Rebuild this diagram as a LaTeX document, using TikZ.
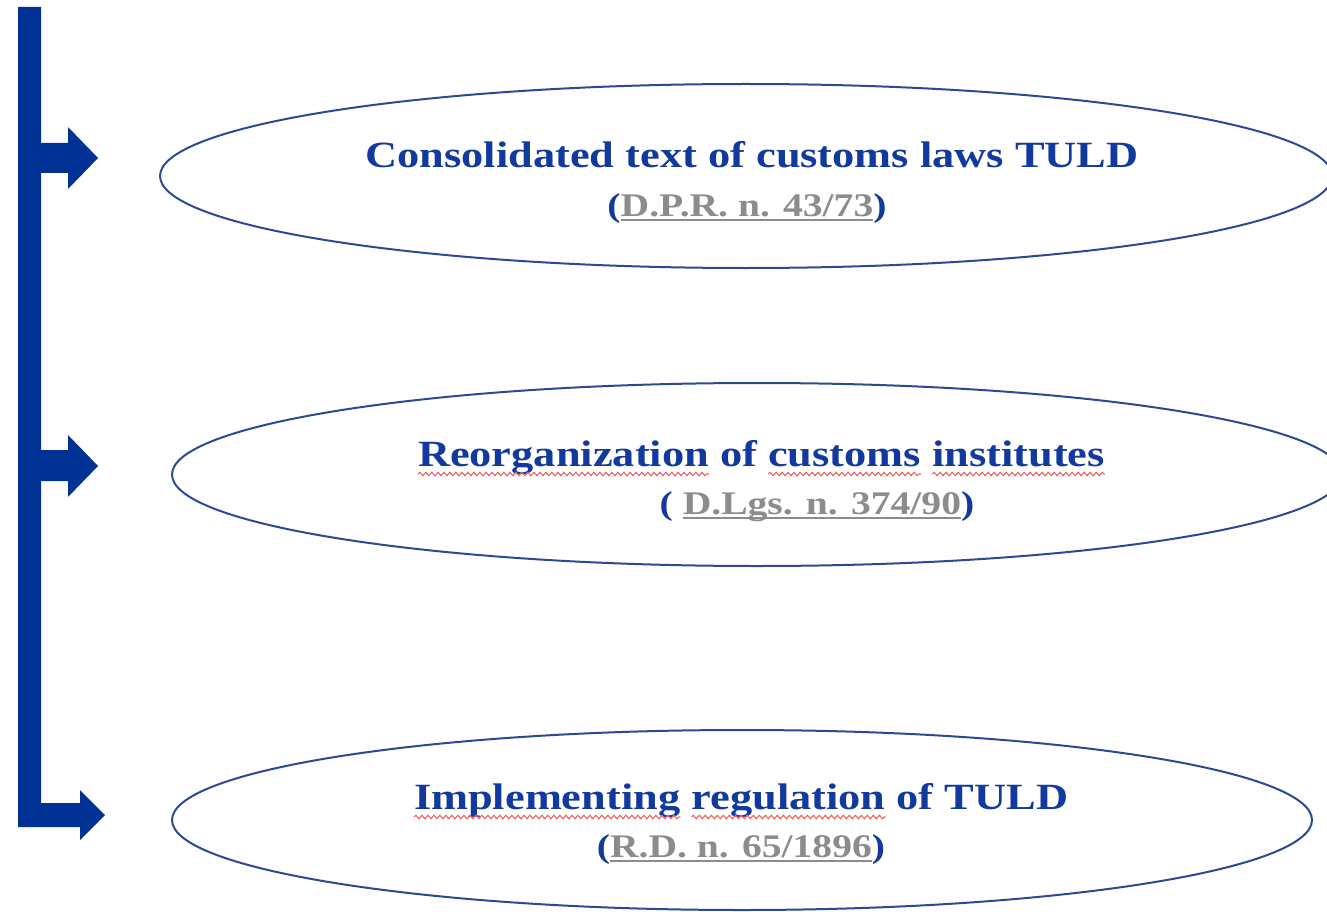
\documentclass[tikz,border=0pt]{standalone}
\usepackage{fontspec}
\setmainfont[FakeStretch=1.2]{Liberation Serif}
\usetikzlibrary{shapes.geometric,decorations.pathmorphing}

\definecolor{lawblue}{RGB}{18,58,158}
\definecolor{barblue}{RGB}{0,50,150}
\definecolor{rimblue}{RGB}{44,74,148}
\definecolor{refgray}{RGB}{140,140,140}
\definecolor{spellred}{RGB}{240,100,100}

% gray underlined reference
\newsavebox{\refbox}
\newcommand{\refcite}[1]{%
  \sbox{\refbox}{#1}%
  \rlap{\usebox{\refbox}}\rule[-4.5pt]{\wd\refbox}{1.3pt}}

\begin{document}
\begin{tikzpicture}[x=1pt,y=-1pt,
  oval/.style={ellipse, draw=rimblue, line width=2pt, inner sep=0pt},
  title/.style={font=\bfseries\fontsize{37}{40}\selectfont, text=lawblue,
    inner sep=0pt, outer sep=0pt, anchor=base west},
  reftext/.style={font=\bfseries\fontsize{33}{36}\selectfont, text=lawblue,
    inner sep=0pt, outer sep=0pt, anchor=base},
  blockarrow/.style={fill=barblue, draw=none},
  wavy/.style={draw=spellred, line width=1.1pt, decorate,
    decoration={snake, segment length=6pt, amplitude=1.7pt}}]

\useasboundingbox (0,0) rectangle (1327,912);
\clip (0,0) rectangle (1327,912);

% ovals
\node[oval, minimum width=1172pt, minimum height=184pt] (e1) at (746,176) {};
\node[oval, minimum width=1170pt, minimum height=183pt] (e2) at (757,474.5) {};
\node[oval, minimum width=1140pt, minimum height=180pt] (e3) at (742,820) {};

% first oval text
\node[title, anchor=base] (t1) at (752,168) {Consolidated text of customs laws TULD};
\node[reftext] (r1) at (747,216) {(\textcolor{refgray}{\refcite{D.P.R. n. 43/73}})};

% second oval text
\node[title] (t2a) at (418,466) {Reorganization};
\node[title] (t2b) at ([xshift=11.1pt]t2a.base east) {of};
\node[title] (t2c) at ([xshift=11.1pt]t2b.base east) {customs};
\node[title] (t2d) at ([xshift=11.1pt]t2c.base east) {institutes};
\node[reftext] (r2) at (817,514) {( \textcolor{refgray}{\refcite{D.Lgs. n. 374/90}})};
\draw[wavy] ([yshift=-8pt]t2a.base west) -- ([yshift=-8pt]t2a.base east);
\draw[wavy] ([yshift=-8pt]t2c.base west) -- ([yshift=-8pt]t2c.base east);
\draw[wavy] ([yshift=-8pt]t2d.base west) -- ([yshift=-8pt]t2d.base east);

% third oval text
\node[title] (t3a) at (414,809) {Implementing};
\node[title] (t3b) at ([xshift=11.1pt]t3a.base east) {regulation};
\node[title] (t3c) at ([xshift=11.1pt]t3b.base east) {of TULD};
\node[reftext] (r3) at (741,857) {(\textcolor{refgray}{\refcite{R.D. n. 65/1896}})};
\draw[wavy] ([yshift=-8pt]t3a.base west) -- ([yshift=-8pt]t3a.base east);
\draw[wavy] ([yshift=-8pt]t3b.base west) -- ([yshift=-8pt]t3b.base east);

% vertical bar ending in the bottom arrow
\fill[blockarrow] (18,7) -- (41,7) -- (41,803) -- (80,803) -- (80,790)
  -- (105,815) -- (80,840) -- (80,827) -- (18,827) -- cycle;
% side arrows
\fill[blockarrow] (41,143) -- (68,143) -- (68,127) -- (98,158)
  -- (68,189) -- (68,173) -- (41,173) -- cycle;
\fill[blockarrow] (41,450) -- (68,450) -- (68,435) -- (98,466)
  -- (68,497) -- (68,481) -- (41,481) -- cycle;
\end{tikzpicture}
\end{document}
